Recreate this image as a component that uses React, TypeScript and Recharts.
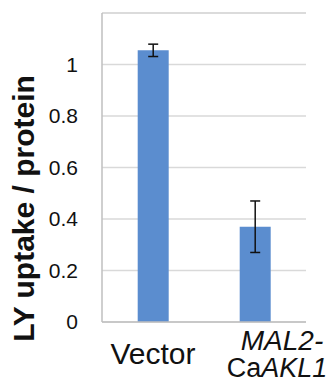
import { BarChart, Bar, XAxis, YAxis, CartesianGrid, ErrorBar, ReferenceLine } from 'recharts'

const categories = ['Vector', 'MAL2-CaAKL1']
const uptake = [1.055, 0.37]
const uptakeErr = [0.024, 0.1]
const yTicks = [0, 0.2, 0.4, 0.6, 0.8, 1]
const yMax = 1.2

const data = categories.map((name, i) => ({ name, value: uptake[i], err: uptakeErr[i] }))

const FONT = '"Liberation Sans", Arial, sans-serif'

function CategoryTick({ x, y, payload }: any) {
  if (payload.value === 'MAL2-CaAKL1') {
    return (
      <g fontFamily={FONT} fill="#111">
        <text x={x + 27} y={y + 20} textAnchor="middle" fontSize={28}>
          <tspan fontStyle="italic">MAL2-</tspan>
        </text>
        <text x={x + 22} y={y + 47} textAnchor="middle" fontSize={27}>
          Ca<tspan fontStyle="italic">AKL1</tspan>
        </text>
      </g>
    )
  }
  return (
    <text x={x} y={y + 34} textAnchor="middle" fontFamily={FONT} fontSize={30} fill="#111">
      {payload.value}
    </text>
  )
}

function YTitle({ viewBox }: any) {
  const cx = viewBox.x + 23
  const cy = viewBox.y + viewBox.height / 2 + 41
  return (
    <text
      x={cx}
      y={cy}
      transform={`rotate(-90, ${cx}, ${cy})`}
      textAnchor="middle"
      dominantBaseline="central"
      fontFamily={FONT}
      fontWeight="bold"
      fontSize={30}
      fill="#111"
    >
      LY uptake / protein
    </text>
  )
}

export default function App() {
  return (
    <div style={{ position: 'absolute', left: 0, top: 0, background: '#fff' }}>
      <BarChart
        width={329}
        height={385}
        data={data}
        margin={{ top: 13, right: 23, bottom: 0, left: 0 }}
        barCategoryGap="35%"
      >
        <CartesianGrid vertical={false} stroke="#d9d9d9" strokeWidth={1.5} />
        <ReferenceLine y={yMax} stroke="#d9d9d9" strokeWidth={1.5} />
        <XAxis
          dataKey="name"
          height={63}
          tick={<CategoryTick />}
          tickLine={false}
          axisLine={{ stroke: '#bfbfbf', strokeWidth: 1.5 }}
          interval={0}
        />
        <YAxis
          domain={[0, yMax]}
          ticks={yTicks}
          width={102}
          tickLine={false}
          axisLine={{ stroke: '#bfbfbf', strokeWidth: 1.5 }}
          tickMargin={18}
          tick={{ fill: '#111', fontSize: 21, fontFamily: FONT }}
          label={<YTitle />}
        />
        <Bar dataKey="value" fill="#5B8DCF" isAnimationActive={false}>
          <ErrorBar dataKey="err" stroke="#111" strokeWidth={1.5} width={5} />
        </Bar>
      </BarChart>
    </div>
  )
}
